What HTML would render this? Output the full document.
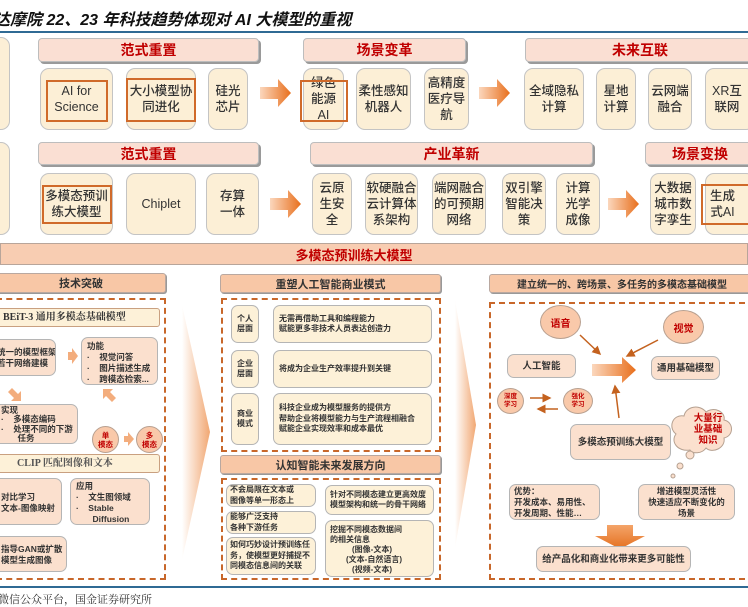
<!DOCTYPE html>
<html><head><meta charset="utf-8"><style>
*{margin:0;padding:0;box-sizing:border-box}
body{width:748px;height:603px;background:#fff;position:relative;overflow:hidden;font-family:"Liberation Sans","Noto Sans CJK SC",sans-serif;color:#222}
.a{position:absolute}
.hd{position:absolute;background:#fadfd3;border:1.5px solid #bdbdbd;border-radius:4px;color:#c00000;font-weight:bold;font-size:14px;display:flex;align-items:center;justify-content:center;box-shadow:2px 2px 0 #9a9a9a}
.c{position:absolute;background:#fcefd6;border:1.5px solid #c4c4c4;border-radius:9px;font-size:12.5px;line-height:16px;display:flex;align-items:center;justify-content:center;text-align:center;color:#333;font-weight:500}
.ob{position:absolute;border:2px solid #d06a2a}
.ph{position:absolute;background:#f8c7a6;border:1.5px solid #b9a8a0;border-radius:3px;font-weight:bold;font-size:11px;display:flex;align-items:center;justify-content:center;color:#333;box-shadow:1px 1px 0 #999;white-space:nowrap}
.dash{position:absolute;border:2px dashed #c8672a}
.pk{position:absolute;background:#fbe0ce;border:1px solid #b5b5b5;border-radius:7px;font-size:8.5px;line-height:11px;color:#333;font-weight:bold;white-space:nowrap;overflow:hidden}
.cr{position:absolute;background:#fdf1d8;border:1px solid #b5b5b5;border-radius:7px;font-size:8px;line-height:10.5px;color:#333;font-weight:bold;white-space:nowrap;overflow:hidden}
.circ{position:absolute;border-radius:50%;background:#f9c9aa;border:1px solid #b8a090;color:#c00000;font-weight:bold;display:flex;align-items:center;justify-content:center;text-align:center}
.fl{display:flex;align-items:center}
</style></head><body>
<div class="a" style="left:-6px;top:6px;font-size:16px;font-weight:bold;font-style:italic;color:#111;white-space:nowrap">达摩院 22、23 年科技趋势体现对 AI 大模型的重视</div>
<div class="a" style="left:0;top:31px;width:748px;height:2px;background:#2f6a94"></div>

<!-- row 1 -->
<div class="c" style="left:-10px;top:37px;width:20px;height:93px"></div>
<div class="hd" style="left:38px;top:38px;width:221px;height:24px">范式重置</div>
<div class="hd" style="left:303px;top:38px;width:163px;height:24px">场景变革</div>
<div class="hd" style="left:525px;top:38px;width:230px;height:24px">未来互联</div>
<div class="c" style="left:40px;top:68px;width:73px;height:62px">AI for<br>Science</div>
<div class="ob" style="left:46px;top:80px;width:62px;height:42px"></div>
<div class="c" style="left:126px;top:68px;width:70px;height:62px">大小模型协<br>同进化</div>
<div class="ob" style="left:126px;top:78px;width:70px;height:44px"></div>
<div class="c" style="left:208px;top:68px;width:40px;height:62px">硅光<br>芯片</div>
<div class="c" style="left:303px;top:68px;width:41px;height:62px">绿色<br>能源<br>AI</div>
<div class="ob" style="left:300px;top:80px;width:48px;height:42px"></div>
<div class="c" style="left:356px;top:68px;width:55px;height:62px">柔性感知<br>机器人</div>
<div class="c" style="left:424px;top:68px;width:45px;height:62px">高精度<br>医疗导<br>航</div>
<div class="c" style="left:524px;top:68px;width:60px;height:62px">全域隐私<br>计算</div>
<div class="c" style="left:596px;top:68px;width:40px;height:62px">星地<br>计算</div>
<div class="c" style="left:648px;top:68px;width:44px;height:62px">云网端<br>融合</div>
<div class="c" style="left:705px;top:68px;width:50px;height:62px;justify-content:flex-start;padding-left:6px">XR互<br>联网</div>

<!-- row 2 -->
<div class="c" style="left:-10px;top:142px;width:20px;height:93px"></div>
<div class="hd" style="left:38px;top:142px;width:221px;height:23px">范式重置</div>
<div class="hd" style="left:310px;top:142px;width:283px;height:23px">产业革新</div>
<div class="hd" style="left:645px;top:142px;width:110px;height:23px">场景变换</div>
<div class="c" style="left:40px;top:173px;width:73px;height:62px">多模态预训<br>练大模型</div>
<div class="ob" style="left:42px;top:185px;width:70px;height:39px"></div>
<div class="c" style="left:126px;top:173px;width:70px;height:62px">Chiplet</div>
<div class="c" style="left:206px;top:173px;width:53px;height:62px">存算<br>一体</div>
<div class="c" style="left:312px;top:173px;width:40px;height:62px">云原<br>生安<br>全</div>
<div class="c" style="left:365px;top:173px;width:53px;height:62px">软硬融合<br>云计算体<br>系架构</div>
<div class="c" style="left:432px;top:173px;width:54px;height:62px">端网融合<br>的可预期<br>网络</div>
<div class="c" style="left:502px;top:173px;width:44px;height:62px">双引擎<br>智能决<br>策</div>
<div class="c" style="left:556px;top:173px;width:44px;height:62px">计算<br>光学<br>成像</div>
<div class="c" style="left:650px;top:173px;width:46px;height:62px">大数据<br>城市数<br>字孪生</div>
<div class="c" style="left:705px;top:173px;width:50px;height:62px;justify-content:flex-start;padding-left:4px">生成<br>式AI</div>
<div class="ob" style="left:701px;top:184px;width:50px;height:41px"></div>

<svg class="a" style="left:0;top:0" width="748" height="603">
<defs>
<linearGradient id="g1" x1="0" x2="1"><stop offset="0" stop-color="#fbd7bd"/><stop offset="1" stop-color="#e86f1c"/></linearGradient>
<linearGradient id="g2" x1="0" x2="1"><stop offset="0" stop-color="#fff"/><stop offset="1" stop-color="#f1a772"/></linearGradient>
<linearGradient id="g3" x1="0" y1="0" x2="0" y2="1"><stop offset="0" stop-color="#f4a469"/><stop offset="1" stop-color="#e4701f"/></linearGradient>
<marker id="m" markerWidth="6" markerHeight="6" refX="5" refY="3" orient="auto"><path d="M0,0L6,3L0,6z" fill="#c4621f"/></marker>
</defs>
<path d="M260,87h18v-8l13,14l-13,14v-8h-18z" fill="url(#g1)"/>
<path d="M479,87h18v-8l13,14l-13,14v-8h-18z" fill="url(#g1)"/>
<path d="M270,198h18v-8l13,14l-13,14v-8h-18z" fill="url(#g1)"/>
<path d="M608,198h18v-8l13,14l-13,14v-8h-18z" fill="url(#g1)"/>
<path d="M182,305L210,432L182,560z" fill="url(#g2)"/>
<path d="M455,300L476,425L455,548z" fill="url(#g2)"/>
<path d="M592,364h30v-7l14,13l-14,13v-7h-30z" fill="url(#g1)"/>
<line x1="580" y1="335" x2="600" y2="354" stroke="#c4621f" stroke-width="1.5" marker-end="url(#m)"/>
<line x1="658" y1="340" x2="627" y2="356" stroke="#c4621f" stroke-width="1.5" marker-end="url(#m)"/>
<line x1="619" y1="418" x2="615" y2="386" stroke="#c4621f" stroke-width="1.5" marker-end="url(#m)"/>
<line x1="530" y1="398" x2="550" y2="398" stroke="#c4621f" stroke-width="1.5" marker-end="url(#m)"/>
<line x1="558" y1="409" x2="538" y2="409" stroke="#c4621f" stroke-width="1.5" marker-end="url(#m)"/>
<path d="M607,525h26v11h12l-25,13l-25,-13h12z" fill="url(#g3)"/>
<path d="M690,450c-12,2-20,-8-14,-16c-8,-6-4,-20,8,-18c2,-10,16,-12,22,-4c8,-6,20,0,18,8c10,2,10,16,0,18c2,10-12,16-18,10c-4,6-14,6-16,2z" fill="#fbe0ce" stroke="#b5a090"/>
<circle cx="690" cy="455" r="4" fill="#fbe0ce" stroke="#b5a090"/>
<circle cx="680" cy="466" r="3" fill="#fbe0ce" stroke="#b5a090"/>
<circle cx="673" cy="476" r="2" fill="#fbe0ce" stroke="#b5a090"/>
<path d="M68,352h4v-4l6,8l-6,8v-4h-4z" fill="#f3ad7d"/>
<path d="M12,388l6,6l3,-3v10h-10l3,-3l-6,-6z" fill="#f3ad7d"/>
<path d="M112,402l-6,-6l-3,3v-10h10l-3,3l6,6z" fill="#f3ad7d"/>
<path d="M124,436h4v-4l6,7l-6,7v-4h-4z" fill="#f3ad7d"/>
</svg>

<div class="a" style="left:0;top:243px;width:748px;height:22px;background:#f8cdb2;border:1.5px solid #b8a59a;color:#c00000;font-weight:bold;font-size:13px;display:flex;align-items:center;justify-content:center;padding-right:40px">多模态预训练大模型</div>

<!-- left panel -->
<div class="ph" style="left:-4px;top:273px;width:170px;height:20px">技术突破</div>
<div class="dash" style="left:-4px;top:298px;width:170px;height:282px"></div>
<div class="a" style="left:-4px;top:308px;width:164px;height:19px;background:#fdf1d8;border:1px solid #c9a080;border-radius:3px;font-family:'Liberation Serif','Noto Serif CJK SC',serif;font-weight:bold;font-size:10px;padding-left:6px;line-height:18px;color:#333;white-space:nowrap">BEiT-3 通用多模态基础模型</div>
<div class="pk" style="left:-14px;top:339px;width:70px;height:37px;padding:7px 0 0 10px">统一的模型框架<br>若干网络建模</div>
<div class="pk" style="left:81px;top:337px;width:77px;height:48px;padding:3px 5px">功能<br>·&nbsp;&nbsp;&nbsp;&nbsp;视觉问答<br>·&nbsp;&nbsp;&nbsp;&nbsp;图片描述生成<br>·&nbsp;&nbsp;&nbsp;&nbsp;跨模态检索...</div>
<div class="pk" style="left:-10px;top:404px;width:88px;height:40px;padding:1px 0 0 10px;line-height:9.4px">实现<br>·&nbsp;&nbsp;&nbsp;&nbsp;多模态编码<br>·&nbsp;&nbsp;&nbsp;&nbsp;处理不同的下游<br>&nbsp;&nbsp;&nbsp;&nbsp;&nbsp;&nbsp;&nbsp;任务</div>
<div class="circ" style="left:92px;top:426px;width:27px;height:27px;font-size:7.5px;line-height:9px">单<br>模态</div>
<div class="circ" style="left:136px;top:426px;width:27px;height:27px;font-size:7.5px;line-height:9px">多<br>模态</div>
<div class="a" style="left:-4px;top:454px;width:164px;height:19px;background:#fdf1d8;border:1px solid #c9a080;border-radius:3px;font-family:'Liberation Serif','Noto Serif CJK SC',serif;font-weight:bold;font-size:10px;padding-left:20px;line-height:18px;color:#555;white-space:nowrap">CLIP 匹配图像和文本</div>
<div class="pk" style="left:-10px;top:478px;width:72px;height:47px;padding:13px 0 0 10px">对比学习<br>文本-图像映射</div>
<div class="pk" style="left:70px;top:478px;width:80px;height:47px;padding:2px 5px">应用<br>·&nbsp;&nbsp;&nbsp;&nbsp;文生图领域<br>·&nbsp;&nbsp;&nbsp;&nbsp;Stable<br>&nbsp;&nbsp;&nbsp;&nbsp;&nbsp;&nbsp;&nbsp;Diffusion</div>
<div class="pk" style="left:-10px;top:536px;width:77px;height:36px;padding:7px 0 0 10px">指导GAN或扩散<br>模型生成图像</div>

<!-- middle panel -->
<div class="ph" style="left:220px;top:274px;width:221px;height:19px">重塑人工智能商业模式</div>
<div class="dash" style="left:221px;top:298px;width:220px;height:154px"></div>
<div class="cr fl" style="left:231px;top:305px;width:28px;height:38px;justify-content:center;text-align:center">个人<br>层面</div>
<div class="cr fl" style="left:273px;top:305px;width:159px;height:38px;padding-left:5px">无需再借助工具和编程能力<br>赋能更多非技术人员表达创造力</div>
<div class="cr fl" style="left:231px;top:350px;width:28px;height:38px;justify-content:center;text-align:center">企业<br>层面</div>
<div class="cr fl" style="left:273px;top:350px;width:159px;height:38px;padding-left:5px">将成为企业生产效率提升到关键</div>
<div class="cr fl" style="left:231px;top:393px;width:28px;height:52px;justify-content:center;text-align:center">商业<br>模式</div>
<div class="cr fl" style="left:273px;top:393px;width:159px;height:52px;padding-left:5px">科技企业成为模型服务的提供方<br>帮助企业将模型能力与生产流程相融合<br>赋能企业实现效率和成本最优</div>
<div class="ph" style="left:220px;top:455px;width:221px;height:19px">认知智能未来发展方向</div>
<div class="dash" style="left:221px;top:478px;width:220px;height:102px"></div>
<div class="cr fl" style="left:226px;top:484px;width:90px;height:23px;padding-left:3px">不会局限在文本或<br>图像等单一形态上</div>
<div class="cr fl" style="left:226px;top:511px;width:90px;height:23px;padding-left:3px">能够广泛支持<br>各种下游任务</div>
<div class="cr fl" style="left:226px;top:537px;width:90px;height:38px;padding-left:3px">如何巧妙设计预训练任<br>务，使模型更好捕捉不<br>同模态信息间的关联</div>
<div class="cr fl" style="left:325px;top:485px;width:109px;height:30px;padding-left:4px">针对不同模态建立更高效度<br>模型架构和统一的骨干网络</div>
<div class="cr" style="left:325px;top:520px;width:109px;height:57px;padding:4px 4px;line-height:10px">挖掘不同模态数据间<br>的相关信息<br><span style="padding-left:22px">(图像-文本)</span><br><span style="padding-left:16px">(文本-自然语言)</span><br><span style="padding-left:22px">(视频-文本)</span></div>

<!-- right panel -->
<div class="ph" style="left:489px;top:274px;width:266px;height:19px;font-size:10px">建立统一的、跨场景、多任务的多模态基础模型</div>
<div class="dash" style="left:489px;top:302px;width:266px;height:278px"></div>
<div class="circ" style="left:540px;top:305px;width:41px;height:34px;font-size:10px">语音</div>
<div class="circ" style="left:663px;top:310px;width:41px;height:34px;font-size:10px">视觉</div>
<div class="pk fl" style="left:507px;top:354px;width:69px;height:24px;justify-content:center;font-size:9.5px">人工智能</div>
<div class="pk fl" style="left:651px;top:356px;width:69px;height:24px;justify-content:center;font-size:9.5px">通用基础模型</div>
<div class="circ" style="left:497px;top:388px;width:27px;height:26px;font-size:6.5px;line-height:8px">深度<br>学习</div>
<div class="circ" style="left:563px;top:388px;width:30px;height:26px;font-size:6.5px;line-height:8px">强化<br>学习</div>
<div class="pk fl" style="left:570px;top:424px;width:101px;height:36px;justify-content:center;font-size:9.5px">多模态预训练大模型</div>
<div class="a" style="left:686px;top:413px;width:44px;text-align:center;color:#c00000;font-weight:bold;font-size:9.5px;line-height:11px">大量行<br>业基础<br>知识</div>
<div class="pk" style="left:509px;top:484px;width:91px;height:36px;padding:1px 4px;font-size:8.5px;line-height:11px">优势：<br>开发成本、易用性、<br>开发周期、性能…</div>
<div class="pk" style="left:638px;top:484px;width:97px;height:36px;padding:1px 2px;text-align:center;font-size:8.5px;line-height:11px">增进模型灵活性<br>快速适应不断变化的<br>场景</div>
<div class="pk fl" style="left:536px;top:546px;width:155px;height:26px;justify-content:center;font-size:9.5px">给产品化和商业化带来更多可能性</div>

<div class="a" style="left:0;top:586px;width:748px;height:2px;background:#2f6a94"></div>
<div class="a" style="left:-2px;top:591px;font-family:'Liberation Serif','Noto Serif CJK SC',serif;font-size:11px;color:#333;white-space:nowrap">微信公众平台，国金证券研究所</div>
</body></html>
